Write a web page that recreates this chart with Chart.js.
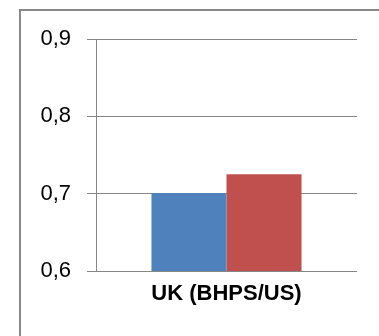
<!DOCTYPE html>
<html>
<head>
<meta charset="utf-8">
<script src="https://cdn.jsdelivr.net/npm/chart.js@4/dist/chart.umd.min.js"></script>
<style>
  html, body { margin: 0; padding: 0; background: #fff; }
  #wrap { position: relative; width: 379px; height: 336px; overflow: hidden; }
  #frame {
    position: absolute; left: 19px; top: 9px; width: 500px; height: 500px;
    border-left: 2px solid #888; border-top: 2px solid #888;
  }
  canvas { position: absolute; left: 0; top: 0; }
</style>
</head>
<body>
<div id="wrap">
  <div id="frame"></div>
  <canvas id="chart" width="379" height="336"></canvas>
</div>
<script>
// Category, series and axis labels
const categories = ['UK (BHPS/US)'];
const seriesBHPS = [0.701];
const seriesUS = [0.725];
const yTickLabels = ['0,6', '0,7', '0,8', '0,9'];

const gridGray = '#868686';

new Chart(document.getElementById('chart'), {
  type: 'bar',
  data: {
    labels: categories,
    datasets: [
      { label: 'BHPS', data: seriesBHPS, backgroundColor: '#4F81BD', borderWidth: 0 },
      { label: 'US', data: seriesUS, backgroundColor: '#C0504D', borderWidth: 0 }
    ]
  },
  options: {
    responsive: false,
    animation: false,
    devicePixelRatio: 1,
    categoryPercentage: 0.575,
    barPercentage: 1.0,
    layout: { padding: { left: 0, top: 39, right: 22, bottom: 0 } },
    plugins: { legend: { display: false }, tooltip: { enabled: false } },
    scales: {
      x: {
        grid: { display: false, drawTicks: false },
        border: { display: false },
        ticks: {
          color: '#000',
          padding: 10,
          font: { family: 'Liberation Sans, Arial, sans-serif', size: 22, weight: 'bold' }
        },
        afterFit: (s) => { s.height = 65; }
      },
      y: {
        min: 0.6,
        max: 0.9,
        grid: { color: gridGray, lineWidth: 1, tickLength: 9, drawTicks: true },
        border: { display: true, color: gridGray, width: 1 },
        ticks: {
          stepSize: 0.1,
          color: '#000',
          padding: 16,
          font: { family: 'Liberation Sans, Arial, sans-serif', size: 22 },
          callback: (v, i) => yTickLabels[i]
        },
        afterFit: (s) => { s.width = 96; }
      }
    }
  }
});
</script>
</body>
</html>
